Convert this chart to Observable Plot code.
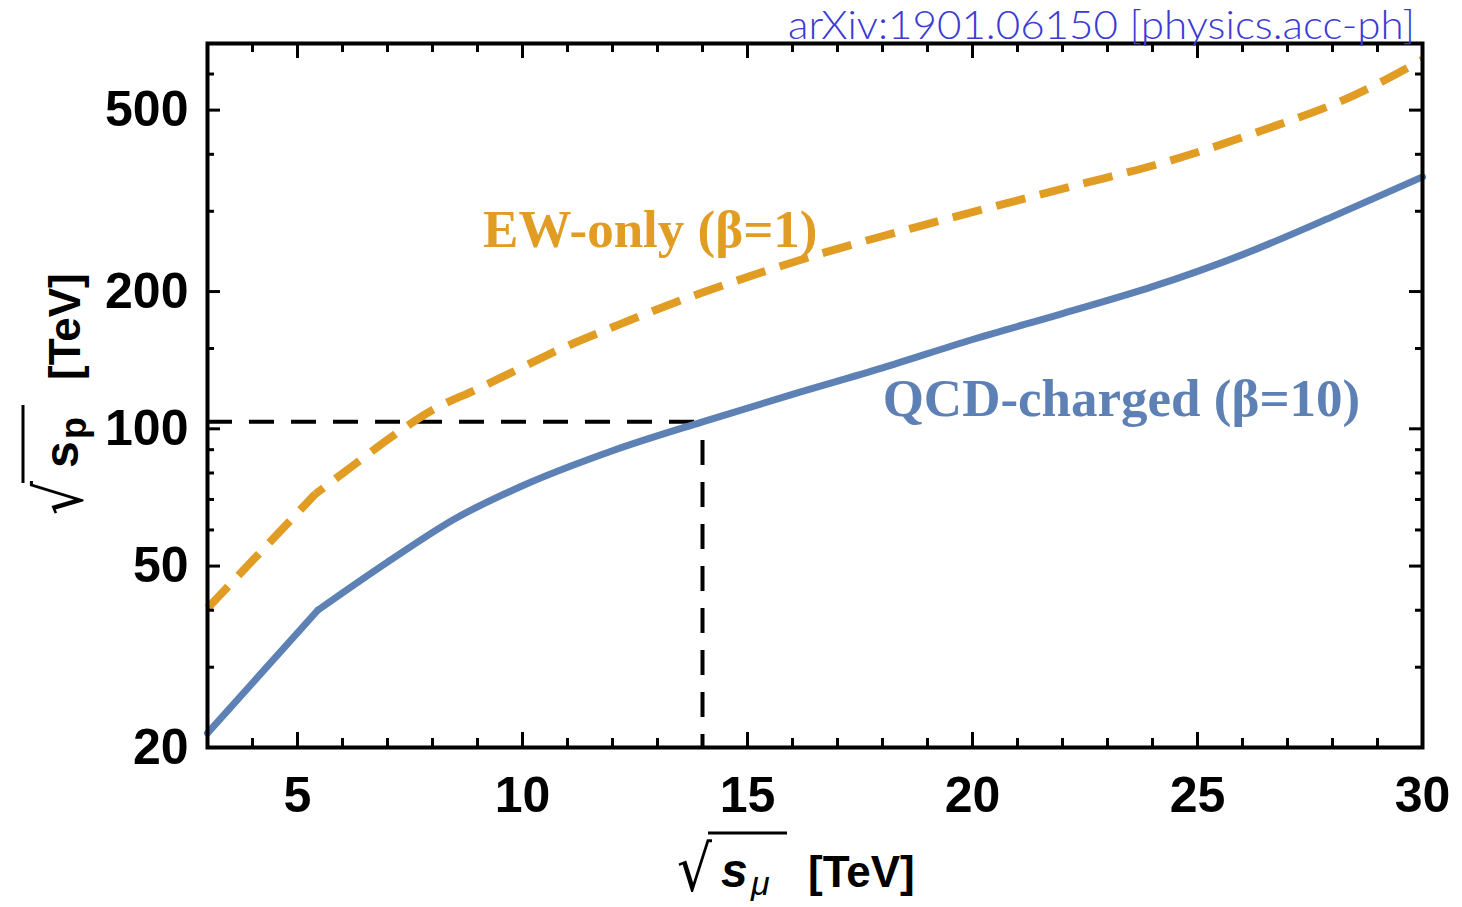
<!DOCTYPE html>
<html><head><meta charset="utf-8">
<script src="https://cdn.jsdelivr.net/npm/d3@7"></script>
<script src="https://cdn.jsdelivr.net/npm/@observablehq/plot@0.6"></script>
<style>html,body{margin:0;padding:0;background:#fff;} #chart{width:1462px;height:907px;}</style>
</head><body><div id="chart"></div>
<script>
// ---- data ----
const qcdX = [3, 4, 5.45, 7, 8.5, 10, 12, 14, 16, 18, 20, 22, 24, 26, 28, 30];
const qcdY = [21.5, 27.7, 40, 51, 63.5, 75, 89.5, 103.6, 119, 136, 157, 179, 205, 241, 292, 357];
const ewX = [3, 4, 5.4, 6.3, 7.07, 8, 9, 10, 11, 12, 13, 14, 16.5, 19.1, 22.2, 24.3, 26.4, 28.5, 30];
const ewY = [40.4, 51.4, 72, 84, 95.7, 110, 122.3, 136.5, 152, 167, 183, 199, 240, 283, 340, 385, 450, 540, 645];
const qcdKink = 5.45;       // threshold kink of the QCD curve
const ewKink = 5.4;         // threshold kink of the EW curve
const refX = [14];          // sqrt(s_mu) reference [TeV]
const refY = [103.6];       // matching sqrt(s_p) [TeV]
const xMajor = [5, 10, 15, 20, 25, 30];
const xMinor = [4, 6, 7, 8, 9, 11, 12, 13, 14, 16, 17, 18, 19, 21, 22, 23, 24, 26, 27, 28, 29];
const yMajor = [20, 50, 100, 200, 500];
const yMinor = [30, 40, 60, 70, 80, 90, 150, 300, 400, 600];
const xDomain = [3, 30];
const yDomain = [20, 700];
const labelQCD = "QCD-charged (β=10)";
const labelEW = "EW-only (β=1)";
const watermark = "arXiv:1901.06150 [physics.acc-ph]";

// ---- layout ----
const W = 1462, H = 907, mL = 207, mR = 40, mT = 43, mB = 160;
const iW = W - mL - mR, iH = H - mT - mB;
const blue = "#5E81B5", orange = "#E19C24";
const qcd = qcdX.map((x, i) => ({x, y: qcdY[i]}));
const ew = ewX.map((x, i) => ({x, y: ewY[i]}));
const ref = refX.map((x, i) => ({x, y: refY[i]}));
const sans = "Liberation Sans, Arial, sans-serif";
const serif = "Liberation Serif, Times New Roman, serif";

const blueStyle = {x: "x", y: "y", stroke: blue, strokeWidth: 7, strokeLinejoin: "round"};
const orangeStyle = {x: "x", y: "y", stroke: orange, strokeWidth: 8, strokeDasharray: "30,15", strokeLinecap: "butt"};
const tickW = 3;
const chart = Plot.plot({
  width: W, height: H,
  marginLeft: mL, marginRight: mR, marginTop: mT, marginBottom: mB,
  style: {background: "white", overflow: "visible"},
  x: {domain: xDomain, axis: null},
  y: {type: "log", domain: yDomain, axis: null},
  marks: [
    // reference dashed lines
    Plot.ruleY(ref, {y: "y", x1: xDomain[0], x2: "x", stroke: "black", strokeWidth: 4, strokeDasharray: "25,17"}),
    Plot.ruleX(ref, {x: "x", y1: yDomain[0], y2: "y", stroke: "black", strokeWidth: 4, strokeDasharray: "25,17", strokeDashoffset: 12}),
    // curves: straight below the kink, smooth above it
    Plot.line(qcd.filter(d => d.x <= qcdKink), {...blueStyle, curve: "linear"}),
    Plot.line(qcd.filter(d => d.x >= qcdKink), {...blueStyle, curve: "monotone-x"}),
    Plot.line(ew.filter(d => d.x <= ewKink), {...orangeStyle, curve: "linear"}),
    Plot.line(ew.filter(d => d.x >= ewKink), {...orangeStyle, curve: "monotone-x", strokeDashoffset: 20}),
    // ticks (inward, all four sides)
    Plot.tickX(xMajor, {x: d => d, insetTop: iH - 15, stroke: "black", strokeWidth: tickW}),
    Plot.tickX(xMinor, {x: d => d, insetTop: iH - 9, stroke: "black", strokeWidth: tickW}),
    Plot.tickX(xMajor, {x: d => d, insetBottom: iH - 15, stroke: "black", strokeWidth: tickW}),
    Plot.tickX(xMinor, {x: d => d, insetBottom: iH - 9, stroke: "black", strokeWidth: tickW}),
    Plot.tickY(yMajor, {y: d => d, insetRight: iW - 13, stroke: "black", strokeWidth: tickW}),
    Plot.tickY(yMinor, {y: d => d, insetRight: iW - 7, stroke: "black", strokeWidth: tickW}),
    Plot.tickY(yMajor, {y: d => d, insetLeft: iW - 13, stroke: "black", strokeWidth: tickW}),
    Plot.tickY(yMinor, {y: d => d, insetLeft: iW - 7, stroke: "black", strokeWidth: tickW}),
    Plot.frame({stroke: "black", strokeWidth: 4}),
    // tick labels
    Plot.text(yMajor, {y: d => d, text: d => String(d), frameAnchor: "left", dx: -19, textAnchor: "end", lineAnchor: "middle",
      fontSize: 50, fontWeight: "bold", fontFamily: sans, fill: "black"}),
    Plot.text(xMajor, {x: d => d, text: d => String(d), frameAnchor: "bottom", dy: 48, lineAnchor: "middle",
      fontSize: 50, fontWeight: "bold", fontFamily: sans, fill: "black"}),
    // curve annotations
    Plot.text([labelEW], {x: 12.84, y: 273, text: d => d, fontSize: 53, fontWeight: "bold", fontFamily: serif, fill: orange, lineAnchor: "middle"}),
    Plot.text([labelQCD], {x: 23.31, y: 116, text: d => d, fontSize: 53, fontWeight: "bold", fontFamily: serif, fill: blue, lineAnchor: "middle"})
  ]
});
document.getElementById("chart").appendChild(chart);

const svg = d3.select(chart);
// fit a text element's bbox into a target box
function fit(sel, x0, y0, w, h) {
  const b = sel.node().getBBox();
  sel.attr("transform", `translate(${x0},${y0}) scale(${w / b.width},${h / b.height}) translate(${-b.x},${-b.y})`);
}
function txt(parent, x, y, size, str, opts = {}) {
  return parent.append("text").attr("x", x).attr("y", y)
    .attr("text-anchor", opts.anchor || "start")
    .attr("font-family", opts.family || sans)
    .attr("font-weight", opts.weight || "bold")
    .attr("font-style", opts.style || "normal")
    .attr("font-size", size).attr("fill", opts.fill || "black").text(str);
}

// watermark
txt(svg, 1415, 39, 40, watermark, {family: "Lato, sans-serif", weight: 300, fill: "#3b3bd4", anchor: "end"})
  .attr("textLength", 627).attr("lengthAdjust", "spacingAndGlyphs");

// x-axis label: sqrt(s_mu) [TeV]
const xl = svg.append("g");
fit(txt(xl, 0, 0, 80, "√", {family: "DejaVu Sans", weight: "normal"}), 677, 832, 35, 74);
xl.append("line").attr("x1", 708).attr("x2", 787).attr("y1", 833).attr("y2", 833).attr("stroke", "black").attr("stroke-width", 3);
txt(xl, 721, 887, 48, "s", {style: "italic"});
txt(xl, 751, 895, 34, "μ", {style: "italic", weight: "normal"});
txt(xl, 808, 887, 44, "[TeV]");

// y-axis label: sqrt(s_p) [TeV], rotated
const yl = svg.append("g").attr("transform", "translate(22,515) rotate(-90)");
fit(txt(yl, 0, 0, 80, "√", {family: "DejaVu Sans", weight: "normal"}), 0, 0, 34, 75);
yl.append("line").attr("x1", 32).attr("x2", 110).attr("y1", 1).attr("y2", 1).attr("stroke", "black").attr("stroke-width", 3);
txt(yl, 47, 56, 48, "s");
txt(yl, 76, 64, 36, "p");
txt(yl, 135, 58, 44, "[TeV]");
</script>
</body></html>
